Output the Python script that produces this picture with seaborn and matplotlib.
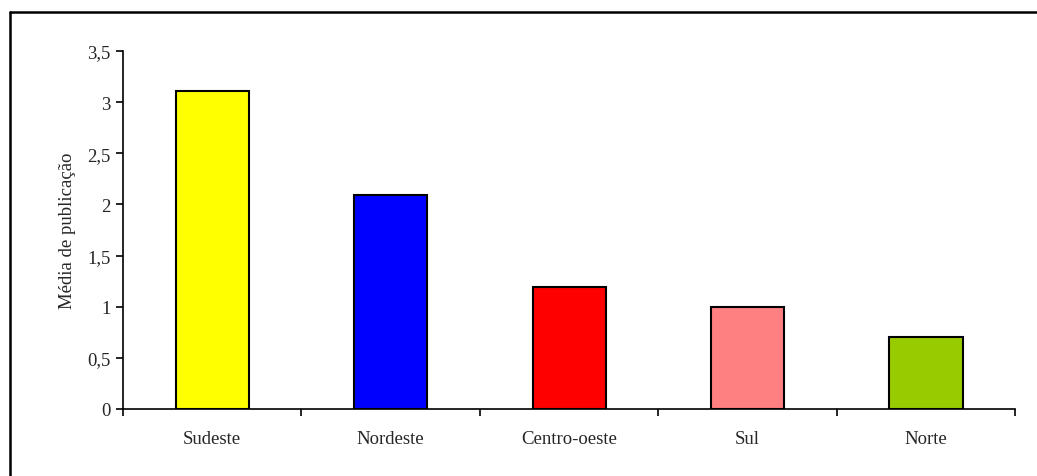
import matplotlib
matplotlib.use("Agg")
import matplotlib.pyplot as plt
from matplotlib.lines import Line2D
from matplotlib.ticker import FuncFormatter, FixedLocator
import numpy as np
import pandas as pd
import seaborn as sns

regions = ["Sudeste", "Nordeste", "Centro-oeste", "Sul", "Norte"]
values = [3.11, 2.09, 1.19, 1.0, 0.70]
colors = ["#ffff00", "#0000ff", "#ff0000", "#ff8080", "#99cc00"]

sns.set_style("white")
plt.rcParams["font.family"] = ["Liberation Serif", "DejaVu Serif"]

df = pd.DataFrame({"regiao": regions, "media": values})

fig = plt.figure(figsize=(10.37, 4.77), dpi=100)
ax = fig.add_axes([0.1186, 0.1405, 0.8604, 0.7505])

sns.barplot(data=df, x="regiao", y="media", hue="regiao", palette=colors,
            saturation=1, width=0.41, edgecolor="black", linewidth=1.5,
            legend=False, ax=ax)

ax.set_xlim(-0.5, len(regions) - 0.5)
ax.set_ylim(0, 3.5)
ax.set_yticks(np.arange(0, 3.51, 0.5))
ax.yaxis.set_major_formatter(FuncFormatter(lambda v, p: f"{v:g}".replace(".", ",")))
ax.set_xlabel("")
ax.set_ylabel("Média de publicação", fontsize=13.5, labelpad=8)

for side in ["top", "right"]:
    ax.spines[side].set_visible(False)
for side in ["left", "bottom"]:
    ax.spines[side].set_color("black")
    ax.spines[side].set_linewidth(1.2)

ax.tick_params(axis="y", direction="out", length=5, width=1.2, color="black",
               labelsize=13.5, left=True, pad=4)
ax.tick_params(axis="x", which="major", length=0, labelsize=13.5, pad=15)
ax.xaxis.set_minor_locator(FixedLocator(np.arange(-0.5, len(regions), 1.0)))
ax.tick_params(axis="x", which="minor", direction="out", length=5, width=1.2,
               color="black", bottom=True)

# outer frame: only top and left edges are visible in the original crop
fig.lines.append(Line2D([0.0095, 1.0], [0.9727, 0.9727], transform=fig.transFigure,
                        color="black", linewidth=1.8))
fig.lines.append(Line2D([0.0095, 0.0095], [0.0, 0.9727], transform=fig.transFigure,
                        color="black", linewidth=1.8))

fig.savefig("out.png", dpi=100)
